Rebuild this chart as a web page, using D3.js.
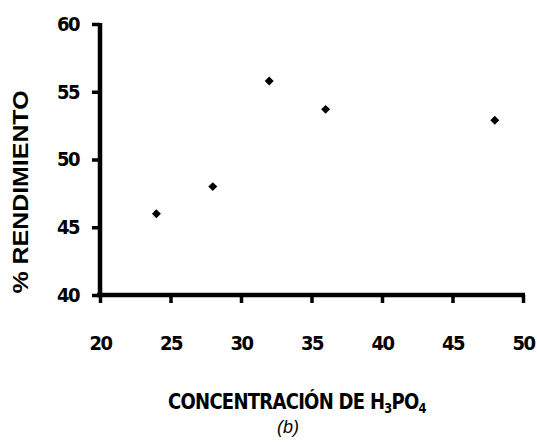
<!DOCTYPE html>
<html><head><meta charset="utf-8">
<script src="https://cdn.jsdelivr.net/npm/d3@7"></script>
<style>
body{margin:0;background:#fff;}
svg{display:block;}
.tick text{font-family:"DejaVu Sans Condensed","Liberation Sans Narrow",sans-serif;font-weight:bold;font-size:20px;fill:#000;letter-spacing:-1.5px;}
.domain{stroke:#000;stroke-width:4.5px;}
.tick line{stroke:#000;stroke-width:3.5px;}
</style></head>
<body><svg id="c" width="537" height="445"></svg>
<script>
const concentracion = [24, 28, 32, 36, 48];
const rendimiento = [46.0, 48.0, 55.8, 53.7, 52.9];
const xTicks = [20, 25, 30, 35, 40, 45, 50];
const yTicks = [40, 45, 50, 55, 60];

const svg = d3.select("#c");
const x = d3.scaleLinear().domain([20, 50]).range([100, 523]);
const y = d3.scaleLinear().domain([40, 60]).range([295, 24]);

const xAxis = svg.append("g").attr("transform", `translate(0,${y(40)})`)
  .call(d3.axisBottom(x).tickValues(xTicks).tickSize(8).tickPadding(33).tickFormat(d3.format("d")));
const yAxis = svg.append("g").attr("transform", `translate(${x(20)},0)`)
  .call(d3.axisLeft(y).tickValues(yTicks).tickSize(8).tickPadding(13).tickFormat(d3.format("d")));

xAxis.select(".domain").attr("d", `M${x(20)-3},0H${x(50)+2}`);
yAxis.select(".domain").attr("d", `M0,${y(40)+2}V${y(60)-1}`);

svg.append("g").selectAll("path").data(concentracion).join("path")
  .attr("transform", (d, i) => `translate(${x(d)},${y(rendimiento[i])}) rotate(45)`)
  .attr("d", d3.symbol().type(d3.symbolSquare).size(40))
  .attr("fill", "#000");

svg.append("text")
  .attr("transform", `translate(${28},${192}) rotate(-90)`)
  .attr("text-anchor", "middle")
  .attr("font-family", "Liberation Sans, Arial, sans-serif")
  .attr("font-weight", "bold").attr("font-size", 22)
  .attr("textLength", 203).attr("lengthAdjust", "spacingAndGlyphs")
  .text("% RENDIMIENTO");

const xg = svg.append("g");
const xl = xg.append("text")
  .attr("x", 0).attr("y", 0)
  .attr("font-family", "DejaVu Sans Condensed, Liberation Sans Narrow, sans-serif")
  .attr("font-weight", "bold").attr("font-size", 22)
  .attr("letter-spacing", -0.8);
xl.append("tspan").text("CONCENTRACIÓN DE H");
xl.append("tspan").attr("font-size", 14).attr("dy", 4).text("3");
xl.append("tspan").attr("dy", -4).text("PO");
xl.append("tspan").attr("font-size", 14).attr("dy", 4).text("4");
const w = xl.node().getBBox().width;
xg.attr("transform", `translate(168,409) scale(${259 / w},1)`);

svg.append("text")
  .attr("x", 288).attr("y", 433).attr("text-anchor", "middle")
  .attr("font-family", "Liberation Sans, Arial, sans-serif")
  .attr("font-style", "italic").attr("font-size", 18)
  .text("(b)");
</script></body></html>
